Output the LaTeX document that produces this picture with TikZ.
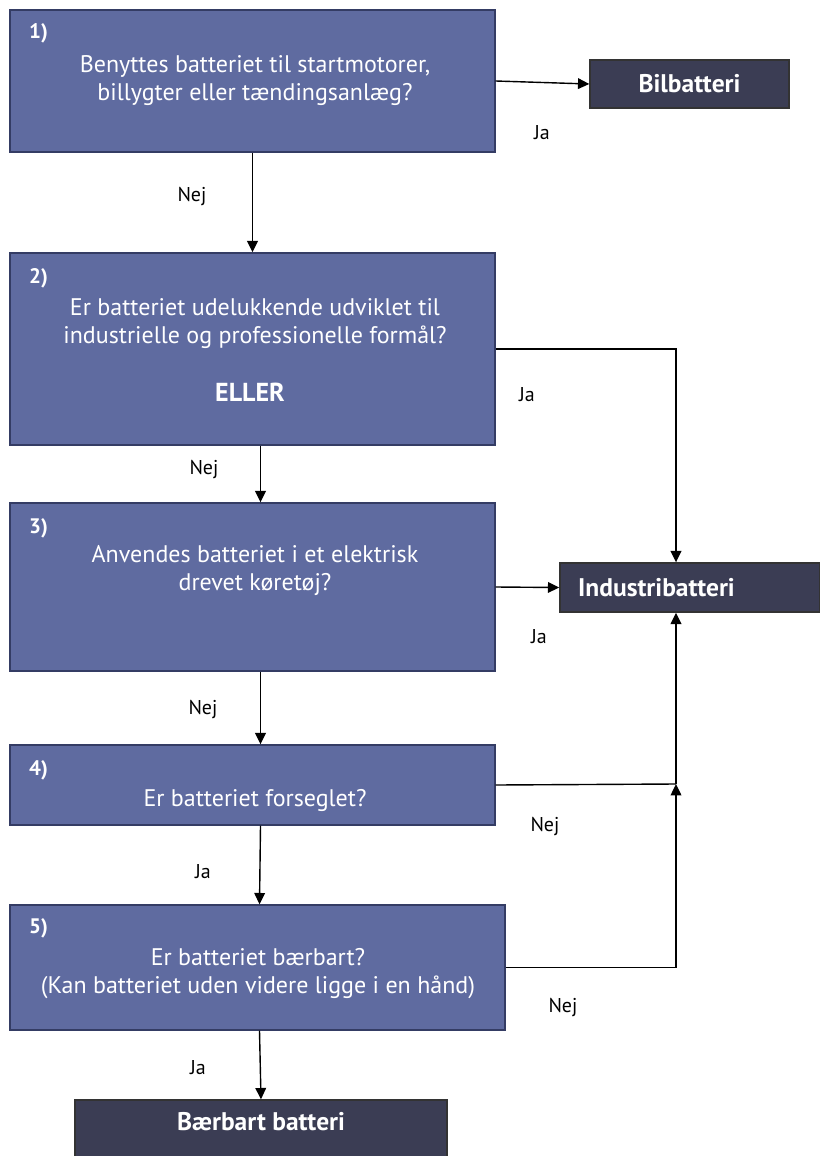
\documentclass[tikz,border=0pt]{standalone}
\usepackage{fontspec}
\setmainfont{PT Sans}
\usetikzlibrary{arrows.meta}
\definecolor{askblue}{RGB}{95,107,160}
\definecolor{askline}{RGB}{52,60,100}
\definecolor{enddark}{RGB}{59,61,84}
\newdimen\unit
\tikzset{unit/.code={\unit=\dimexpr#1\relax}}
\tikzset{xy/.style={x={#1},y={-#1},unit={#1},font={\fontsize{24\unit}{28\unit}\selectfont},line width=1.4\unit}}
\tikzset{askbox/.style={draw=askline,fill=askblue,inner sep=0pt}}
\tikzset{endbox/.style={draw=black!80,fill=enddark,inner sep=0pt}}
\tikzset{asktext/.style={text=white,align=center}}
\tikzset{endtext/.style={text=white,font={\bfseries\fontsize{25.5\unit}{28\unit}\selectfont}}}
\tikzset{numtext/.style={text=white,anchor=west,font={\bfseries\fontsize{21\unit}{24\unit}\selectfont}}}
\tikzset{flow/.style={draw,-{Triangle[length=8.5pt,width=8pt]}}}
\tikzset{answer/.style={font={\fontsize{20\unit}{24\unit}\selectfont}}}

\begin{document}
\begin{tikzpicture}[xy=.75pt]%
    \path [use as bounding box] (0,0) rectangle (820,1156);
    \path (252.5,81) node [askbox,minimum width=485\unit,minimum height=142\unit] (q1) {};
    \path (252.5,349) node [askbox,minimum width=485\unit,minimum height=192\unit] (q2) {};
    \path (252.5,587) node [askbox,minimum width=485\unit,minimum height=168\unit] (q3) {};
    \path (252.5,785) node [askbox,minimum width=485\unit,minimum height=80\unit] (q4) {};
    \path (257.5,967.5) node [askbox,minimum width=495\unit,minimum height=125\unit] (q5) {};
    \path (689.5,84) node [endbox,minimum width=199\unit,minimum height=48\unit] (bil) {};
    \path (690,587.5) node [endbox,minimum width=260\unit,minimum height=49\unit] (ind) {};
    \path (261,1129) node [endbox,minimum width=372\unit,minimum height=58\unit] (baer) {};
    \coordinate (j) at (676,784);
    \foreach \n/\y in {1/33,2/278,3/528,4/770,5/928} {
        \path (24,\y) node [numtext] (n\n) {\n)};
    }
    \path (255,81) node [asktext] (t1) {Benyttes batteriet til startmotorer,\\billygter eller tændingsanlæg?};
    \path (255,324) node [asktext] (t2) {Er batteriet udelukkende udviklet til\\industrielle og professionelle formål?};
    \path (250,392) node [asktext,font={\bfseries\fontsize{26\unit}{28\unit}\selectfont}] (t2b) {ELLER};
    \path (255,571) node [asktext] (t3) {Anvendes batteriet i et elektrisk\\drevet køretøj?};
    \path (255,800) node [asktext] (t4) {Er batteriet forseglet?};
    \path (258,974) node [asktext] (t5) {Er batteriet bærbart?\\(Kan batteriet  uden videre ligge i en hånd)};
    \path (bil) node [endtext] {Bilbatteri};
    \path (573,588) node [endtext,anchor=west] {Industribatteri};
    \path (baer.center) ++(0,-7) node [endtext] {Bærbart batteri};
    \path [flow] (q1.east) -- (bil.west);
    \path [flow] (q1.south) -- (q2.north);
    \path [flow] (q2.east) -| (j |- ind.north);
    \path [flow] ([xshift=6pt]q2.south) -- ([xshift=6pt]q3.north);
    \path [flow] (q3.east) -- (ind.west);
    \path [flow] ([xshift=6pt]q3.south) -- ([xshift=6pt]q4.north);
    \path [draw] (q4.east) -- (j);
    \path [flow] (j) -- (j |- ind.south);
    \path [flow] ([xshift=6pt]q4.south) -- ([xshift=1.5pt]q5.north);
    \path [flow] (q5.east) -| (j);
    \path [flow] ([xshift=1.5pt]q5.south) -- (baer.north);
    \path (542,133) node [answer] (a1) {Ja};
    \path (192,197) node [answer] (a2) {Nej};
    \path (527,395) node [answer] (a3) {Ja};
    \path (204,470) node [answer] (a4) {Nej};
    \path (539,637) node [answer] (a5) {Ja};
    \path (203,710) node [answer] (a6) {Nej};
    \path (545,826) node [answer] (a7) {Nej};
    \path (203,872) node [answer] (a8) {Ja};
    \path (563,1007) node [answer] (a9) {Nej};
    \path (198,1068) node [answer] (a10) {Ja};
\end{tikzpicture}
\end{document}
